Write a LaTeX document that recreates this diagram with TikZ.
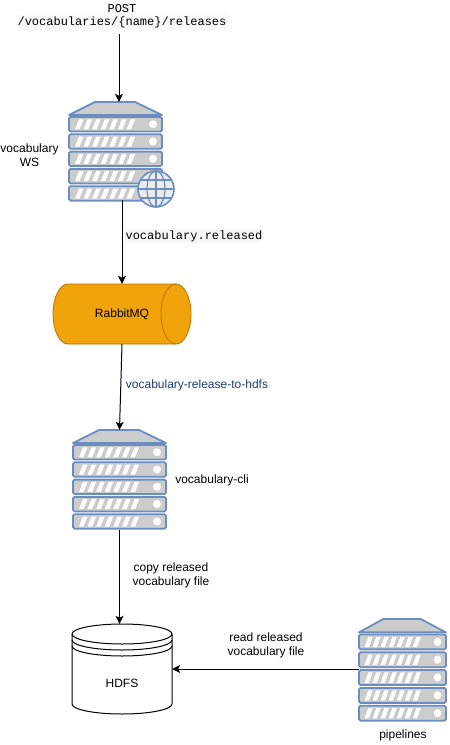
\documentclass[tikz,border=0pt]{standalone}
\usepackage{fontspec}
\setmainfont{Liberation Sans}
\setmonofont{Liberation Mono}
\usetikzlibrary{arrows.meta}
\definecolor{rackblue}{HTML}{6C8EBF}
\definecolor{rackgray}{HTML}{CCCCCC}
\definecolor{queuefill}{HTML}{F0A30A}
\definecolor{queueedge}{HTML}{BD7000}
\definecolor{topicblue}{HTML}{1F3A6E}
\definecolor{codeback}{HTML}{F8F8F8}
\tikzset{
  lbl/.style={inner sep=0pt, align=center, font=\fontsize{12}{14}\selectfont},
  monolbl/.style={lbl, fill=codeback, inner ysep=1.5pt, font=\fontsize{12}{14}\selectfont\ttfamily},
  hitbox/.style={inner sep=0pt, draw=none, fill=none},
  link/.style={line width=1pt, -{Stealth[length=8pt,width=8pt,inset=2pt]}},
  rack/.pic={
    \draw[rackblue, line width=1.8pt, fill=rackgray, line join=round] (0,13) -- (26,0) -- (66,0) -- (93,13) -- cycle;
    \foreach \r in {0,...,4} {
      \draw[rackblue, line width=1.8pt, fill=rackgray, rounded corners=1.5pt] (0,15+17.3*\r) rectangle (93,29.5+17.3*\r);
      \foreach \s in {0,...,6}
        \fill[white] (6+8.6*\s,27.3+17.3*\r) -- (10+8.6*\s,17.3+17.3*\r) -- (14.5+8.6*\s,17.3+17.3*\r) -- (10.5+8.6*\s,27.3+17.3*\r) -- cycle;
      \fill[white] (84,22.2+17.3*\r) circle (4);
    }
  },
  globe/.pic={
    \draw[rackblue, line width=1.6pt, fill=rackgray!40] (0,0) circle (18);
    \draw[rackblue, line width=1.2pt] (0,0) ellipse (9 and 18);
    \draw[rackblue, line width=1.2pt] (0,-18) -- (0,18);
    \draw[rackblue, line width=1.2pt] (-18,0) -- (18,0);
    \draw[rackblue, line width=1.2pt] (-15.5,-9) -- (15.5,-9);
    \draw[rackblue, line width=1.2pt] (-15.5,9) -- (15.5,9);
  }
}
\begin{document}
\begin{tikzpicture}[x=1pt, y=-1pt]
  \useasboundingbox (0,0) rectangle (450,745);

  % racks
  \pic at (69,102) {rack};
  \pic at (156,189) {globe};
  \pic at (73,430) {rack};
  \pic[xscale=0.935, yscale=1.03] at (359,619) {rack};

  % queue and store
  \draw[draw=queueedge, fill=queuefill, line width=0.8pt] (68,284) -- (176,284)
    arc[x radius=15, y radius=30, start angle=-90, end angle=90]
    -- (68,344) arc[x radius=15, y radius=30, start angle=90, end angle=270] -- cycle;
  \draw[draw=queueedge, line width=0.8pt] (176,284) arc[x radius=15, y radius=30, start angle=270, end angle=90];

  \draw[line width=1pt, fill=white] (72,634) arc[x radius=50, y radius=10, start angle=180, end angle=360]
    -- (172,704) arc[x radius=50, y radius=10, start angle=0, end angle=180] -- cycle;
  \draw[line width=1pt] (72,634) arc[x radius=50, y radius=10, start angle=180, end angle=0];
  \draw[line width=1pt] (72,640) arc[x radius=50, y radius=10, start angle=180, end angle=0];
  \draw[line width=1pt] (72,646) arc[x radius=50, y radius=10, start angle=180, end angle=0];

  % anchors for the arrows
  \coordinate (posttail) at (119,34);
  \node[hitbox, minimum width=106pt, minimum height=98pt] (ws) at (122,151) {};
  \node[hitbox, minimum width=138pt, minimum height=60pt] (rabbit) at (122,314) {};
  \node[hitbox, minimum width=93pt, minimum height=100pt] (cli) at (119.5,480) {};
  \node[hitbox, minimum width=87pt, minimum height=102pt] (pipe) at (402.5,669) {};
  \node[hitbox, minimum width=100pt, minimum height=90pt] (hdfs) at (122,669) {};

  % labels
  \node[monolbl] (postpath) at (122,22.5) {/vocabularies/\{name\}/releases};
  \node[monolbl] (post) at (122,8.5) {POST};
  \node[lbl] (wslbl) at (29.5,155) {vocabulary\\WS};
  \node[monolbl] (released) at (194,236) {vocabulary.released};
  \node[lbl, text=topicblue] (topic) at (197,385) {vocabulary-release-to-hdfs};
  \node[lbl] (clilbl) at (212,480) {vocabulary-cli};
  \node[lbl] (copy) at (171,575) {copy released\\vocabulary file};
  \node[lbl] (rabbittxt) at (122,314) {RabbitMQ};
  \node[lbl] (hdfstxt) at (122,683) {HDFS};
  \node[lbl] (read) at (266,645) {read released\\vocabulary file};
  \node[lbl] (pipelbl) at (403,735) {pipelines};

  % arcs
  \draw[link] (posttail) -- (posttail |- ws.north);
  \draw[link] (ws.south) -- (rabbit.north);
  \draw[link] (rabbit.south) -- (cli.north);
  \draw[link] (cli.south) -- (cli.south |- hdfs.north);
  \draw[link] (pipe.west) -- (hdfs.east);
\end{tikzpicture}
\end{document}
